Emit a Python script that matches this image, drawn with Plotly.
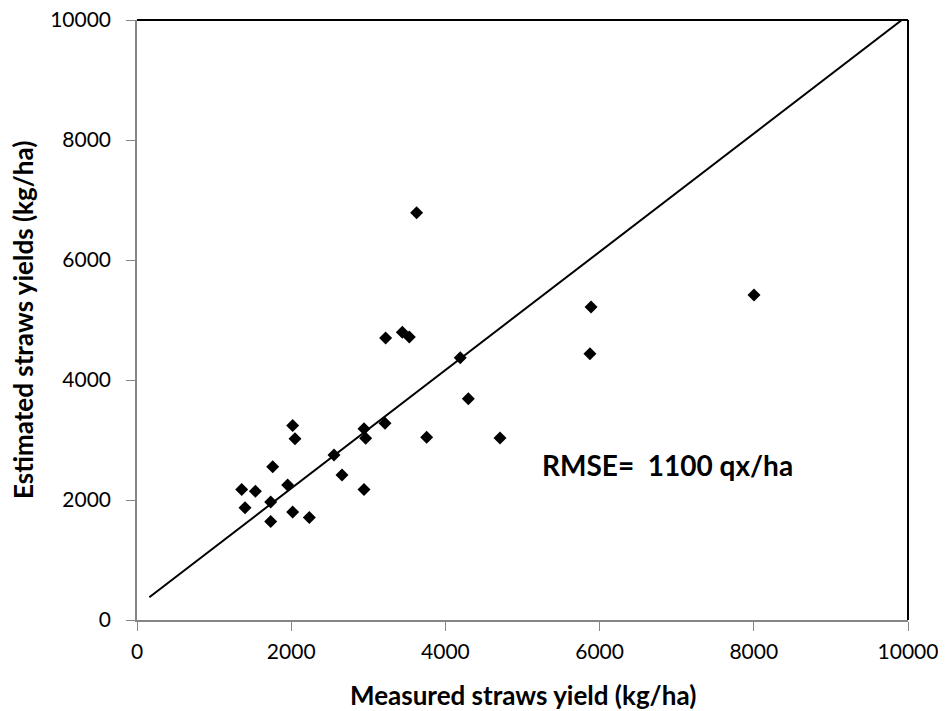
import plotly.graph_objects as go

measured = [1358, 1401, 1535, 1734, 1734, 1760, 1954, 2019, 2019, 2049, 2235, 2555, 2659, 2944,
            2944, 2966, 3217, 3225, 3441, 3532, 3627, 3757, 4193, 4297, 4708, 5875, 5889, 8003]
estimated = [2177, 1871, 2144, 1966, 1642, 2556, 2250, 3241, 1799, 3019, 1709, 2751, 2417, 2177,
             3186, 3029, 3280, 4700, 4795, 4716, 6787, 3046, 4372, 3687, 3035, 4439, 5218, 5418]
line_x = [160, 9920]
line_y = [380, 10000]
ticks = [0, 2000, 4000, 6000, 8000, 10000]

FONT = "Lato"

fig = go.Figure()
fig.add_trace(go.Scatter(x=line_x, y=line_y, mode="lines",
                         line=dict(color="black", width=2), showlegend=False, hoverinfo="skip"))
fig.add_trace(go.Scatter(x=measured, y=estimated, mode="markers",
                         marker=dict(symbol="diamond", size=10, color="black"),
                         showlegend=False))

axis_common = dict(range=[0, 10000], tickvals=ticks, ticktext=[str(t) for t in ticks],
                   showgrid=False, zeroline=False, showline=True, linecolor="#868686",
                   linewidth=1.5, ticks="outside", ticklen=9, tickcolor="#868686",
                   automargin=False, ticklabeloverflow="allow",
                   tickfont=dict(family=FONT, size=21, color="black"))

# the page body has an 8px default margin, so the figure is offset by 8px
fig.update_layout(
    width=938, height=703,
    margin=dict(l=129, r=38, t=12, b=91),
    paper_bgcolor="white", plot_bgcolor="white",
    xaxis=dict(**axis_common, ticklabelstandoff=3),
    yaxis=dict(**axis_common, ticklabelstandoff=11),
    shapes=[
        dict(type="line", xref="paper", yref="paper", x0=0, x1=1, y0=1, y1=1,
             line=dict(color="black", width=2)),
        dict(type="line", xref="paper", yref="paper", x0=1, x1=1, y0=0, y1=1,
             line=dict(color="black", width=2)),
    ],
    annotations=[
        dict(x=6884, y=2590, xref="x", yref="y", text="<b>RMSE=  1100 qx/ha</b>",
             showarrow=False, font=dict(family=FONT, size=28, color="black")),
        dict(x=0.5, y=0, xref="paper", yref="paper", yanchor="middle", yshift=-75,
             text="<b>Measured straws yield (kg/ha)</b>", showarrow=False,
             font=dict(family=FONT, size=26, color="black")),
        dict(x=0, y=0.5, xref="paper", yref="paper", xanchor="center", xshift=-114,
             textangle=-90, text="<b>Estimated straws yields (kg/ha)</b>", showarrow=False,
             font=dict(family=FONT, size=26, color="black")),
    ],
)

fig.write_html("out.html")
